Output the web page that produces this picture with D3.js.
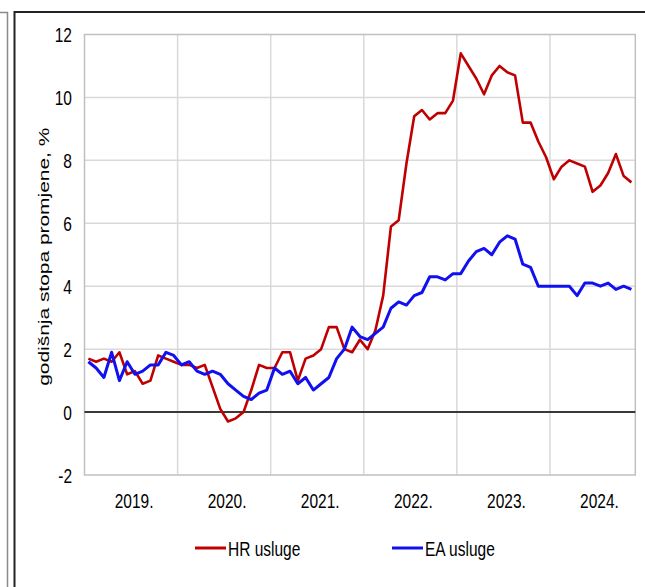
<!DOCTYPE html>
<html>
<head>
<meta charset="utf-8">
<script src="https://cdn.jsdelivr.net/npm/d3@7"></script>
<style>
  body { margin: 0; background: #fff; }
  text { font-family: "Liberation Sans", Arial, sans-serif; fill: #000; }
</style>
</head>
<body>
<script>
// monthly data, Jan 2019 - Nov 2024
var years = ["2019.", "2020.", "2021.", "2022.", "2023.", "2024."];
var yTicks = [-2, 0, 2, 4, 6, 8, 10, 12];
var seriesNames = ["HR usluge", "EA usluge"];

var hr = [1.7, 1.6, 1.7, 1.6, 1.9, 1.2, 1.3, 0.9, 1.0, 1.8, 1.7, 1.6,
          1.5, 1.5, 1.4, 1.5, 0.8, 0.1, -0.3, -0.2, 0.0, 0.7, 1.5, 1.4,
          1.4, 1.9, 1.9, 1.0, 1.7, 1.8, 2.0, 2.7, 2.7, 2.0, 1.9, 2.3,
          2.0, 2.6, 3.7, 5.9, 6.1, 7.9, 9.4, 9.6, 9.3, 9.5, 9.5, 9.9,
          11.4, 11.0, 10.6, 10.1, 10.7, 11.0, 10.8, 10.7, 9.2, 9.2, 8.6, 8.1,
          7.4, 7.8, 8.0, 7.9, 7.8, 7.0, 7.2, 7.6, 8.2, 7.5, 7.3];

var ea = [1.6, 1.4, 1.1, 1.9, 1.0, 1.6, 1.2, 1.3, 1.5, 1.5, 1.9, 1.8,
          1.5, 1.6, 1.3, 1.2, 1.3, 1.2, 0.9, 0.7, 0.5, 0.4, 0.6, 0.7,
          1.4, 1.2, 1.3, 0.9, 1.1, 0.7, 0.9, 1.1, 1.7, 2.0, 2.7, 2.4,
          2.3, 2.5, 2.7, 3.3, 3.5, 3.4, 3.7, 3.8, 4.3, 4.3, 4.2, 4.4,
          4.4, 4.8, 5.1, 5.2, 5.0, 5.4, 5.6, 5.5, 4.7, 4.6, 4.0, 4.0,
          4.0, 4.0, 4.0, 3.7, 4.1, 4.1, 4.0, 4.1, 3.9, 4.0, 3.9];

var w = 645, h = 587;
var pLeft = 84.5, pRight = 635.3, pTop = 34.5, pBottom = 475;
var stretch = 1.35; // text in the picture is taller than it is wide

var svg = d3.select("body").append("svg")
            .attr("width", w)
            .attr("height", h);

// frames
svg.append("path")
   .attr("d", "M0,12.5H7.5V" + h)
   .attr("fill", "none").attr("stroke", "#8a8a8a").attr("stroke-width", 1.5);
svg.append("path")
   .attr("d", "M14.5," + h + "V12H" + w)
   .attr("fill", "none").attr("stroke", "#222").attr("stroke-width", 2);

var x = d3.scaleLinear().domain([0, hr.length]).range([pLeft, pRight]);
var y = d3.scaleLinear().domain([-2, 12]).range([pBottom, pTop]);

// grid
svg.append("g").selectAll("line")
   .data(yTicks.slice(1, -1))
   .enter().append("line")
   .attr("x1", pLeft).attr("x2", pRight)
   .attr("y1", function(d) { return y(d); })
   .attr("y2", function(d) { return y(d); })
   .attr("stroke", "#d9d9d9").attr("stroke-width", 1.5);

svg.append("g").selectAll("line")
   .data(years.slice(1))
   .enter().append("line")
   .attr("x1", function(d, i) { return x((i + 1) * 12); })
   .attr("x2", function(d, i) { return x((i + 1) * 12); })
   .attr("y1", pTop).attr("y2", pBottom)
   .attr("stroke", "#d9d9d9").attr("stroke-width", 1.5);

svg.append("rect")
   .attr("x", pLeft).attr("y", pTop)
   .attr("width", pRight - pLeft).attr("height", pBottom - pTop)
   .attr("fill", "none").attr("stroke", "#c0c0c0").attr("stroke-width", 1.5);

svg.append("line")
   .attr("x1", pLeft).attr("x2", pRight)
   .attr("y1", y(0)).attr("y2", y(0))
   .attr("stroke", "#000").attr("stroke-width", 1.5);

// y labels
svg.append("g").selectAll("text")
   .data(yTicks)
   .enter().append("text")
   .attr("transform", function(d) { return "translate(72," + y(d) + ") scale(1," + stretch + ")"; })
   .attr("text-anchor", "end")
   .attr("dy", "0.36em")
   .style("font-size", "15.5px")
   .text(function(d) { return d; });

// year labels
svg.append("g").selectAll("text")
   .data(years)
   .enter().append("text")
   .attr("transform", function(d, i) { return "translate(" + (x(i * 12 + 6) + 3) + ",500) scale(1," + stretch + ")"; })
   .attr("text-anchor", "middle")
   .attr("dy", "0.36em")
   .style("font-size", "15.5px")
   .text(function(d) { return d; });

// axis title
svg.append("text")
   .attr("transform", "translate(43," + ((pTop + pBottom) / 2 + 2) + ") rotate(-90) scale(" + stretch + ",1)")
   .attr("text-anchor", "middle")
   .attr("dy", "0.36em")
   .style("font-size", "15.5px")
   .text("godišnja stopa promjene, %");

// lines
var line = d3.line()
             .x(function(d, i) { return x(i + 0.5); })
             .y(function(d) { return y(d); });

var series = [
  { name: seriesNames[0], values: hr, color: "#c00000", width: 2.6 },
  { name: seriesNames[1], values: ea, color: "#1010f0", width: 3 }
];

svg.append("g").selectAll("path")
   .data(series)
   .enter().append("path")
   .attr("d", function(d) { return line(d.values); })
   .attr("fill", "none")
   .attr("stroke", function(d) { return d.color; })
   .attr("stroke-width", function(d) { return d.width; })
   .attr("stroke-linejoin", "round");

// legend
var legendX = [195, 392];
var lg = svg.append("g").selectAll("g")
            .data(series)
            .enter().append("g")
            .attr("transform", function(d, i) { return "translate(" + legendX[i] + ",548)"; });

lg.append("line")
  .attr("x1", 0).attr("x2", 31)
  .attr("stroke", function(d) { return d.color; })
  .attr("stroke-width", 3);

lg.append("text")
  .attr("transform", "translate(33,0) scale(1," + stretch + ")")
  .attr("dy", "0.36em")
  .style("font-size", "15.5px")
  .text(function(d) { return d.name; });
</script>
</body>
</html>
